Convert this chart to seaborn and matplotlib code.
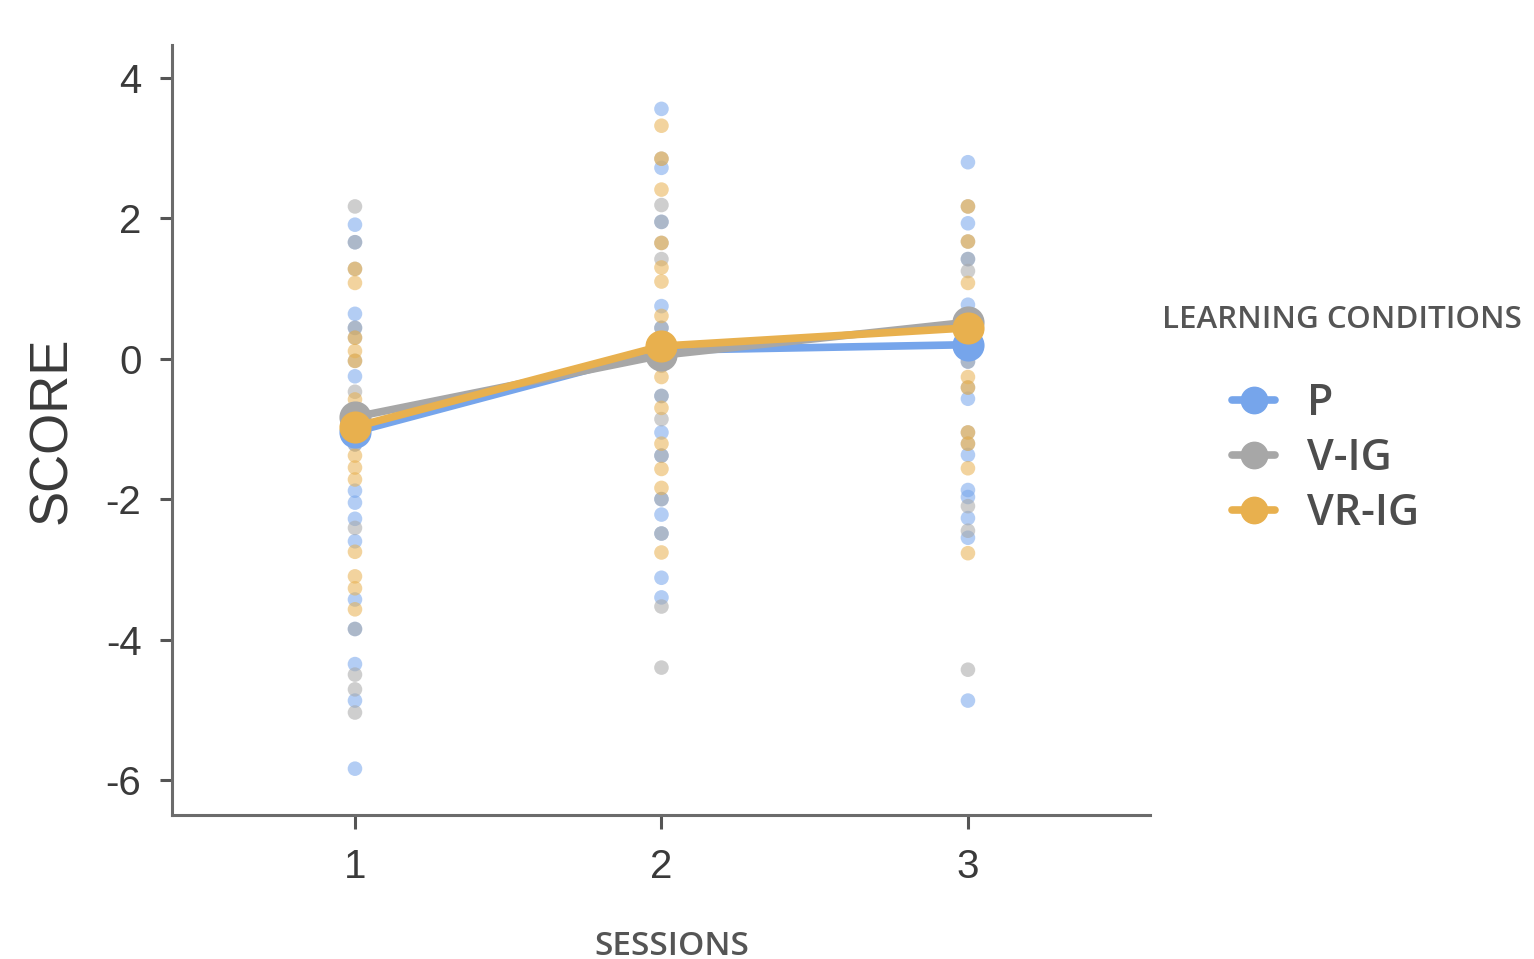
import matplotlib
matplotlib.use("Agg")
import matplotlib.pyplot as plt
from matplotlib.lines import Line2D
import seaborn as sns
import pandas as pd

# ---------------- data ----------------
sessions = ["1", "2", "3"]
groups = ["P", "V-IG", "VR-IG"]
colors = {"P": "#76A5EB", "V-IG": "#A7A7A7", "VR-IG": "#E8B04E"}

# individual scores per group and session
p_s1 = [1.91, 1.66, 0.64, 0.44, -0.25, -1.22, -1.88, -2.05, -2.28, -2.6, -3.43, -3.85, -4.35, -4.87, -5.84]
p_s2 = [3.56, 2.72, 1.95, 0.75, 0.44, -0.53, -1.05, -1.38, -2.0, -2.22, -2.49, -3.12, -3.4]
p_s3 = [2.8, 1.93, 1.42, 0.77, 0.17, -0.04, -0.57, -1.37, -1.87, -1.97, -2.27, -2.55, -4.87]

vig_s1 = [2.17, 1.66, 1.28, 0.44, 0.3, -0.03, -0.47, -0.77, -1.22, -2.41, -3.85, -4.5, -4.71, -5.04]
vig_s2 = [2.85, 2.19, 1.95, 1.65, 1.42, 0.44, -0.1, -0.53, -0.86, -1.38, -2.0, -2.49, -3.53, -4.4]
vig_s3 = [2.17, 1.67, 1.42, 1.25, 0.5, -0.04, -0.41, -1.05, -1.21, -2.1, -2.45, -4.43]

vrig_s1 = [1.28, 1.08, 0.3, 0.11, -0.03, -0.58, -1.38, -1.55, -1.72, -2.75, -3.1, -3.27, -3.57]
vrig_s2 = [3.32, 2.85, 2.41, 1.65, 1.3, 1.1, 0.61, -0.26, -0.7, -1.21, -1.57, -1.84, -2.76]
vrig_s3 = [2.17, 1.67, 1.08, 0.45, -0.26, -0.41, -1.05, -1.21, -1.56, -2.77]

# group means per session
mean_p = [-1.04, 0.12, 0.20]
mean_vig = [-0.83, 0.05, 0.52]
mean_vrig = [-0.97, 0.18, 0.44]

# ---------------- tables ----------------
raw = {
    "P": [p_s1, p_s2, p_s3],
    "V-IG": [vig_s1, vig_s2, vig_s3],
    "VR-IG": [vrig_s1, vrig_s2, vrig_s3],
}
rows = []
for g in groups:
    for s, vals in zip(sessions, raw[g]):
        for v in vals:
            rows.append({"session": s, "group": g, "score": v})
df = pd.DataFrame(rows)

means = {"P": mean_p, "V-IG": mean_vig, "VR-IG": mean_vrig}
mrows = []
for g in groups:
    for s, v in zip(sessions, means[g]):
        mrows.append({"session": s, "group": g, "score": v})
mdf = pd.DataFrame(mrows)

# ---------------- plot ----------------
sns.set_theme(style="ticks")
plt.rcParams["font.family"] = ["Liberation Sans", "DejaVu Sans"]

fig = plt.figure(figsize=(15.34, 9.59), dpi=100)
ax = fig.add_axes([172 / 1534, 1 - 815 / 959, (1150 - 172) / 1534, (815 - 45) / 959])

sns.stripplot(data=df, x="session", y="score", hue="group", order=sessions,
              hue_order=groups, palette=colors, jitter=False, dodge=False,
              size=10.5, alpha=0.55, linewidth=0, legend=False, ax=ax, zorder=1)

sns.pointplot(data=mdf, x="session", y="score", hue="group", order=sessions,
              hue_order=groups, palette=colors, errorbar=None, dodge=False,
              markers="o", markersize=19, linewidth=5.5, legend=False, ax=ax)

ax.set_xlim(-0.597, 2.594)
ax.set_ylim(-6.5, 4.47)
ax.set_yticks([-6, -4, -2, 0, 2, 4])
ax.set_yticklabels(["-6", "-4", "-2", "0", "2", "4"])
ax.set_xlabel("")
ax.set_ylabel("")

for side in ["top", "right"]:
    ax.spines[side].set_visible(False)
for side in ["left", "bottom"]:
    ax.spines[side].set_color("#6b6b6b")
    ax.spines[side].set_linewidth(2.2)
ax.tick_params(axis="both", colors="#555555", width=2.2, labelcolor="#3a3a3a",
               labelsize=29)
ax.tick_params(axis="y", length=9, pad=13)
ax.tick_params(axis="x", length=10, pad=14)

fig.text(52 / 1534, 1 - 430 / 959, "SCORE", rotation=90, ha="center", va="center",
         fontsize=38, color="#3a3a3a", family=["Liberation Sans", "DejaVu Sans"])
fig.text(672 / 1534, 1 - 930 / 959, "SESSIONS", ha="center", va="top",
         fontsize=24, color="#555555", family=["Open Sans", "DejaVu Sans"],
         fontweight="semibold")

# legend
fig.text(1162 / 1534, 1 - 320 / 959, "LEARNING CONDITIONS", ha="left", va="center",
         fontsize=22.5, color="#555555", family=["Open Sans", "DejaVu Sans"],
         fontweight="semibold")
handles = [Line2D([0], [0], color=colors[g], marker="o", markersize=19,
                  linewidth=5.5) for g in groups]
leg = fig.legend(handles, groups, loc="upper left",
                 bbox_to_anchor=(1232 / 1534, 1 - 382 / 959),
                 frameon=False,
                 prop={"family": ["Open Sans", "DejaVu Sans"], "size": 31,
                       "weight": "semibold"},
                 handlelength=1.0, handletextpad=0.75, labelspacing=0.28,
                 borderpad=0, borderaxespad=0)
for t in leg.get_texts():
    t.set_color("#4d4d4d")

fig.savefig("out.png", dpi=100, facecolor="white")
